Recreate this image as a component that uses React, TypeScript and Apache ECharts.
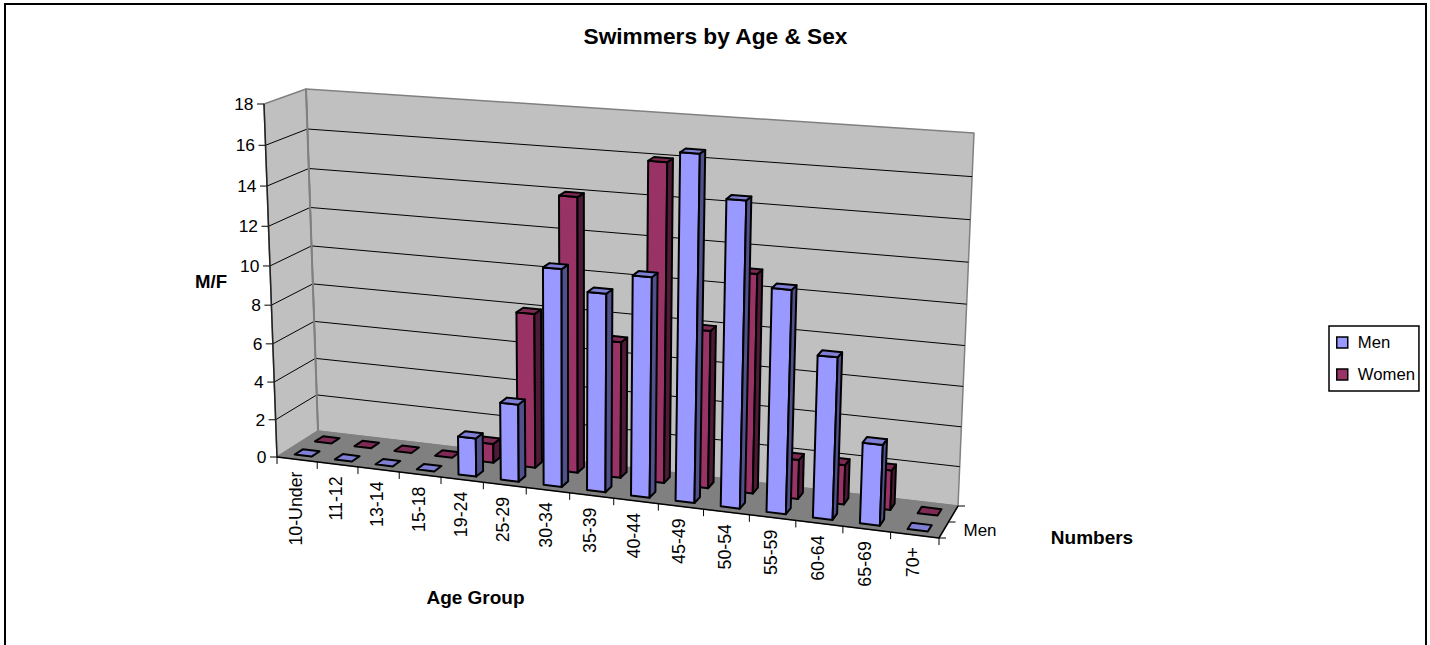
import React, { useEffect, useRef } from "react";
import * as echarts from "echarts";

const categories = ["10-Under", "11-12", "13-14", "15-18", "19-24", "25-29", "30-34", "35-39", "40-44", "45-49", "50-54", "55-59", "60-64", "65-69", "70+"];
const menValues = [0, 0, 0, 0, 2, 4, 11, 10, 11, 17, 15, 11, 8, 4, 0];
const womenValues = [0, 0, 0, 0, 1, 8, 14, 7, 16, 8, 11, 2, 2, 2, 0];
const yTicks = [0, 2, 4, 6, 8, 10, 12, 14, 16, 18];

const FONT = '"Liberation Sans", Arial, sans-serif';

// Corners of the 3D box on the page: F = front, B = back; L/R; b = bottom, t = top
const FLb = [277, 457], FRb = [939, 538], BLb = [318, 431], BRb = [958, 506];
const FLt = [264, 104], FRt = [956, 153], BLt = [306, 89], BRt = [974, 133];
const PERSPECTIVE_X = 1.104;
const PERSPECTIVE_Y = 1.06;

const mix = (a: number[], b: number[], t: number) => [a[0] + (b[0] - a[0]) * t, a[1] + (b[1] - a[1]) * t];
const bend = (t: number, k: number) => t / (t + k * (1 - t));
function project(u: number, v: number, z: number) {
  const uu = bend(u, PERSPECTIVE_X);
  const vv = bend(v, PERSPECTIVE_Y);
  const fb = mix(FLb, FRb, uu), ft = mix(FLt, FRt, uu), bb = mix(BLb, BRb, uu), bt = mix(BLt, BRt, uu);
  return mix(mix(fb, ft, vv), mix(bb, bt, vv), z);
}

function makeScale(params: any, api: any) {
  const s = params.coordSys;
  return (cat: number, offset: number, value: number, z: number) => {
    const p = api.coord([cat, value]);
    const band = s.width / categories.length;
    const u = (p[0] + offset * band - s.x) / s.width;
    const v = (s.y + s.height - p[1]) / s.height;
    return project(u, v, z);
  };
}

const poly = (points: number[][], fill: string, stroke = "#000", lineWidth = 2) => ({
  type: "polygon", shape: { points },
  style: { fill, stroke, lineWidth, lineJoin: "round" },
});
const seg = (a: number[], b: number[], stroke: string, lineWidth = 1) => ({
  type: "line", shape: { x1: a[0], y1: a[1], x2: b[0], y2: b[1] }, style: { stroke, lineWidth },
});
const label = (text: string, x: number, y: number, align: string, size: number, rotation = 0, weight = "normal") => ({
  type: "text", x, y, rotation,
  style: { text, fill: "#000", font: `${weight} ${size}px ${FONT}`, align, verticalAlign: "middle" },
});

function barRenderer(z0: number, z1: number, front: string, top: string, side: string) {
  return (params: any, api: any) => {
    const at = makeScale(params, api);
    const c = api.value(0), val = api.value(1);
    const a = -0.21, b = 0.21;
    const P = (o: number, y: number, z: number) => at(c, o, y, z);
    const children: any[] = [];
    if (val > 0) {
      children.push(poly([P(a, 0, z0), P(b, 0, z0), P(b, val, z0), P(a, val, z0)], front));
      children.push(poly([P(b, 0, z0), P(b, 0, z1), P(b, val, z1), P(b, val, z0)], side));
    }
    children.push(poly([P(a, val, z0), P(b, val, z0), P(b, val, z1), P(a, val, z1)], top));
    return { type: "group", children };
  };
}

function frameRenderer(params: any, api: any) {
  const at = makeScale(params, api);
  const n = categories.length;
  const U = (o: number, y: number, z: number) => at(0, o - 0.5, y, z);
  const children: any[] = [];
  const wall = "#C0C0C0", edge = "#808080";
  // walls and floor
  children.push(poly([U(0, 0, 1), U(n, 0, 1), U(n, 18, 1), U(0, 18, 1)], wall, edge, 1.5));
  children.push(poly([U(0, 0, 0), U(0, 0, 1), U(0, 18, 1), U(0, 18, 0)], wall, edge, 1.5));
  children.push(poly([U(0, 0, 0), U(n, 0, 0), U(n, 0, 1), U(0, 0, 1)], edge, edge, 1));
  // gridlines
  yTicks.forEach((t) => {
    if (t > 0 && t < 18) {
      children.push(seg(U(0, t, 0), U(0, t, 1), "#000", 1));
      children.push(seg(U(0, t, 1), U(n, t, 1), "#000", 1));
    }
    const p = U(0, t, 0);
    children.push(seg(p, [p[0] - 7, p[1]], "#000", 1));
    children.push(label(String(t), p[0] - 10.5, p[1], "right", 17.4));
  });
  // axis edges
  children.push(seg(U(0, 0, 0), U(0, 18, 0), "#222", 1.5));
  children.push(seg(U(0, 0, 1), U(0, 18, 1), edge, 2));
  children.push(seg(U(0, 0, 0), U(n, 0, 0), "#000", 1.5));
  children.push(seg(U(n, 0, 0), U(n, 0, 1), "#000", 1.5));
  // category ticks and labels
  for (let i = 0; i <= n; i++) {
    const p = U(i, 0, 0);
    children.push(seg(p, [p[0], p[1] + 7], "#000", 1));
    if (i < n) {
      const m = U(i + 0.5, 0, 0);
      children.push(label(categories[i], m[0] - 1.5, m[1] + 12, "right", 17.8, Math.PI / 2));
    }
  }
  // depth ticks
  [0, 0.5, 1].forEach((z) => {
    const p = U(n, 0, z);
    children.push(seg(p, [p[0] + 7, p[1]], "#000", 1));
  });
  const mid = U(n, 0, 0.5);
  children.push(label("Men", mid[0] + 15, mid[1] + 8, "left", 17));
  // titles
  children.push(label("M/F", 211, 281, "center", 18.6, 0, "bold"));
  children.push(label("Age Group", 475.5, 597, "center", 19, 0, "bold"));
  children.push(label("Numbers", 1092, 537, "center", 19, 0, "bold"));
  return { type: "group", children };
}

export default function App() {
  const ref = useRef<HTMLDivElement>(null);
  useEffect(() => {
    const chart = echarts.init(ref.current!, undefined, { renderer: "svg" });
    chart.setOption({
      animation: false,
      backgroundColor: "#fff",
      title: {
        text: "Swimmers by Age & Sex", left: 715.5, top: 24, textAlign: "center", padding: 0,
        textStyle: { fontFamily: FONT, fontWeight: "bold", fontSize: 22.7, color: "#000" },
      },
      grid: { left: 264, top: 104, width: 675, height: 353 },
      xAxis: { type: "category", data: categories, show: false },
      yAxis: { type: "value", min: 0, max: 18, interval: 2, show: false },
      legend: {
        orient: "vertical", left: 1329, top: 326, padding: [8, 4, 8, 7], itemGap: 15,
        itemWidth: 11, itemHeight: 11, icon: "rect",
        borderColor: "#000", borderWidth: 1.5, selectedMode: false,
        data: ["Men", "Women"],
        itemStyle: { borderColor: "#000", borderWidth: 1.5 },
        textStyle: { fontFamily: FONT, fontSize: 16.7, color: "#000", padding: [0, 0, 0, 5] },
      },
      graphic: [{
        type: "rect", z: 100, silent: true,
        shape: { x: 5, y: 4, width: 1421, height: 660 },
        style: { fill: "none", stroke: "#000", lineWidth: 2 },
      }],
      series: [
        {
          name: "Frame", type: "custom", silent: true, renderItem: frameRenderer,
          data: [[0, 0]], encode: { x: 0, y: 1 }, z: 1,
        },
        {
          name: "Women", type: "custom", silent: true,
          renderItem: barRenderer(0.65, 0.85, "#993366", "#7F2A55", "#4F1A38"),
          itemStyle: { color: "#993366" },
          data: womenValues.map((v, i) => [i, v]), encode: { x: 0, y: 1 }, z: 2,
        },
        {
          name: "Men", type: "custom", silent: true,
          renderItem: barRenderer(0.15, 0.35, "#9999FF", "#7F7FD4", "#50508A"),
          itemStyle: { color: "#9999FF" },
          data: menValues.map((v, i) => [i, v]), encode: { x: 0, y: 1 }, z: 3,
        },
      ],
    });
    return () => chart.dispose();
  }, []);
  return <div ref={ref} style={{ position: "absolute", left: 0, top: 0, width: 1430, height: 645 }} />;
}
